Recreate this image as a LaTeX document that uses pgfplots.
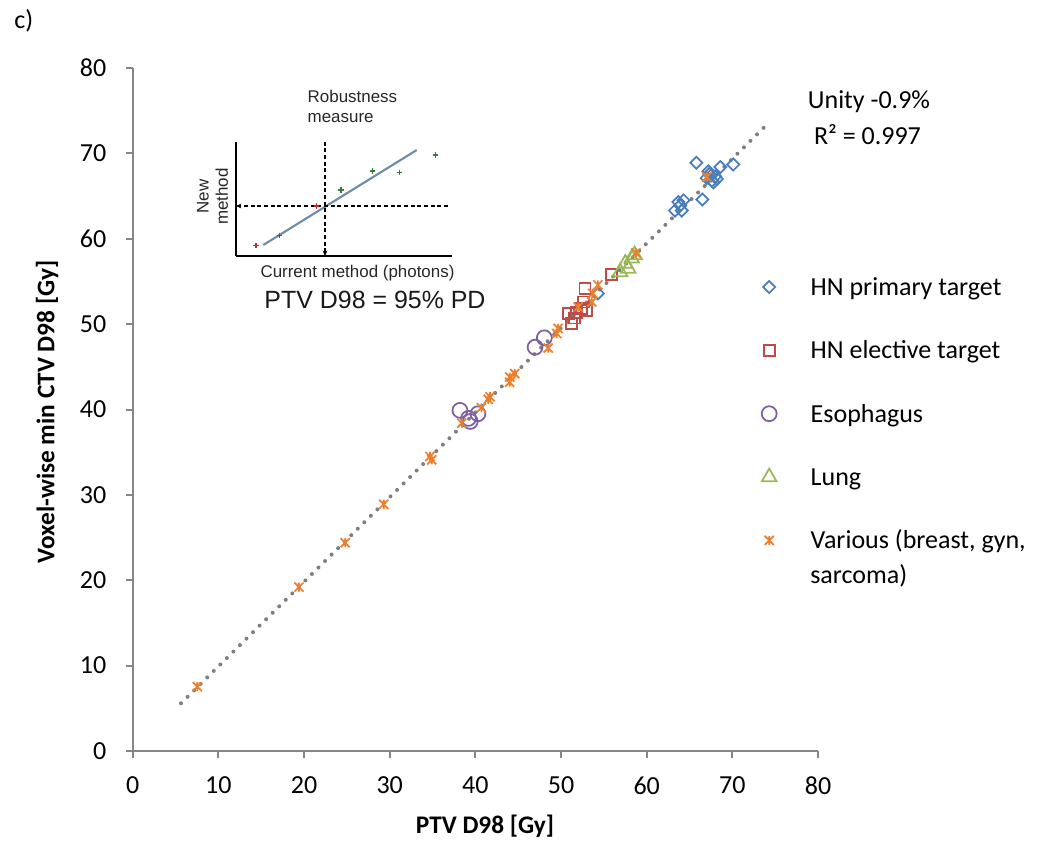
\documentclass[border=0pt]{standalone}
\usepackage{fontspec}
\setmainfont{Carlito}
\newfontfamily\arialf{Liberation Sans}
\usepackage{pgfplots}
\pgfplotsset{compat=1.18}
\usetikzlibrary{arrows.meta}
\definecolor{hnp}{HTML}{4A7EBB}
\definecolor{hne}{HTML}{BE4B48}
\definecolor{eso}{HTML}{7D60A0}
\definecolor{lung}{HTML}{98B954}
\definecolor{var}{HTML}{EB7F2E}
\definecolor{axgray}{HTML}{868686}
\definecolor{trend}{HTML}{7F7F7F}
\definecolor{inblue}{HTML}{6E8CAE}
\definecolor{inred}{HTML}{C0282A}
\definecolor{ingreen}{HTML}{3C7A3C}
\pgfdeclareplotmark{xstar}{%
 \pgfpathmoveto{\pgfqpoint{-\pgfplotmarksize}{-\pgfplotmarksize}}\pgfpathlineto{\pgfqpoint{\pgfplotmarksize}{\pgfplotmarksize}}%
 \pgfpathmoveto{\pgfqpoint{-\pgfplotmarksize}{\pgfplotmarksize}}\pgfpathlineto{\pgfqpoint{\pgfplotmarksize}{-\pgfplotmarksize}}%
 \pgfpathmoveto{\pgfqpoint{0pt}{-\pgfplotmarksize}}\pgfpathlineto{\pgfqpoint{0pt}{\pgfplotmarksize}}%
 \pgfusepathqstroke}
\begin{document}
\begin{tikzpicture}[x=0.75pt,y=0.75pt]
\useasboundingbox (0,0) rectangle (1038,843);
\begin{axis}[
  at={(99.53pt,69pt)}, anchor=south west,
  scale only axis, width=514pt, height=512.25pt,
  xmin=0,xmax=80,ymin=0,ymax=80,
  xtick={0,10,...,80}, ytick={0,10,...,80},
  axis lines*=left, axis line style={-, draw=axgray, line width=1.5pt},
  tick align=outside, major tick length=5.25pt,
  tick style={draw=axgray, line width=1.5pt},
  tick label style={font=\fontsize{19.5}{22}\selectfont},
  yticklabel style={xshift=-11pt},
  xticklabel style={yshift=-10.5pt},
  /pgf/number format/assume math mode=true,
  clip=false,
  legend cell align=left,
  legend style={at={(0.9154,0.6967)}, anchor=north west, draw=none, fill=none,
    inner sep=0pt, row sep=30.1pt, column sep=0pt,
    nodes={inner sep=0pt, text height=15pt, text depth=2.4pt,
      font=\fontsize{19.5}{23}\selectfont, anchor=west}},
  legend image code/.code={\draw[#1] plot coordinates {(0pt,0pt)}; \path (-6pt,0pt) (30.5pt,0pt);},
]
\addplot[only marks, mark=square, mark size=3.2pt, draw=hnp, line width=1.3pt, mark options={rotate=45}] coordinates {
(65.8,68.9) (70.1,68.7) (68.6,68.4) (67.3,67.6) (67.0,67.1) (67.6,66.8) (68.0,67.3)
(67.8,66.6) (68.2,67.0) (67.2,67.9) (67.5,67.4) (66.5,64.6) (63.7,64.3) (64.3,64.5)
(63.3,63.3) (64.1,63.3) (63.9,63.9) (54.3,53.6)};
\addlegendentry{HN primary target}
\addplot[only marks, mark=square, mark size=4.1pt, draw=hne, line width=1.3pt] coordinates {
(55.9,55.85) (52.8,54.2) (50.85,51.25) (51.25,50.1) (51.8,51.4) (52.4,51.8) (52.6,52.6)
(53.0,51.6) (51.6,50.7)};
\addlegendentry{HN elective target}
\addplot[only marks, mark=o, mark size=5.6pt, draw=eso, line width=1.3pt] coordinates {
(46.97,47.3) (48.05,48.4) (38.2,39.9) (39.2,38.96) (39.4,38.6) (40.3,39.5)};
\addlegendentry{Esophagus}
\addplot[only marks, mark=triangle, mark size=6.3pt, draw=lung, line width=1.3pt] coordinates {
(57.5,57.1) (58.25,57.7) (57.85,56.5) (56.9,56.1) (58.6,58.1)};
\addlegendentry{Lung}
\addplot[only marks, mark=xstar, mark size=3.4pt, draw=var, line width=1.3pt] coordinates {
(7.54,7.53) (19.4,19.2) (24.8,24.4) (29.3,28.9) (34.7,34.5) (34.9,34.1) (38.4,38.4)
(40.7,40.2) (41.5,41.2) (44.0,43.2) (41.7,41.5) (44.0,43.8) (44.6,44.2) (48.5,47.2)
(49.5,48.9) (49.65,49.5) (52.0,52.0) (53.6,52.6) (53.7,53.6) (54.3,54.6) (58.75,58.35)
(67.0,67.25)};
\addlegendentry{Various (breast, gyn,}
\addplot[forget plot, no marks, draw=trend, line width=3pt, line cap=round, dash pattern=on 0pt off 6.9pt] coordinates {
(5.64,5.59) (73.9,73.24)};
\end{axis}
% inset
\begin{axis}[
  at={(177pt,440.25pt)}, anchor=south west,
  scale only axis, width=161.8pt, height=85.7pt,
  xmin=0,xmax=215.7,ymin=0,ymax=114.3,
  axis lines=left, axis line style={-, line width=1.1pt, black},
  xtick=\empty, ytick=\empty, clip=false,
]
\addplot[no marks, draw=inblue, line width=1.6pt] coordinates {(27.3,11) (180.7,106)};
\addplot[no marks, draw=black, line width=1.1pt, dash pattern=on 3pt off 2pt, -{Stealth[length=4pt,width=3.5pt]}] coordinates {(89,114.3) (89,0)};
\addplot[no marks, draw=black, line width=1.1pt, dash pattern=on 3pt off 2pt, -{Stealth[length=4pt,width=3.5pt]}] coordinates {(212,50) (0,50)};
\addplot[only marks, mark=+, mark size=2pt, draw=inred, line width=0.8pt] coordinates {(20,10.3) (43.3,20.3) (80.7,50)};
\addplot[only marks, mark=+, mark size=2pt, draw=ingreen, line width=0.8pt] coordinates {(105,66) (136.7,85) (163.3,83.7) (199.7,101)};
\end{axis}
% inset texts
\node[font=\arialf\fontsize{12.7}{14}\selectfont, anchor=west, text=black!85] at (303,746.3) {Robustness};
\node[font=\arialf\fontsize{12.7}{14}\selectfont, anchor=west, text=black!85] at (303,724.7) {measure};
\node[font=\arialf\fontsize{12.7}{14.5}\selectfont, rotate=90, align=center, text=black!85] at (212.5,646.3) {New\\method};
\node[font=\arialf\fontsize{12.7}{14}\selectfont, text=black!85] at (357.5,570) {Current method (photons)};
\node[font=\arialf\fontsize{18.7}{21}\selectfont, text=black!90] at (375,543) {PTV D98 = 95\% PD};
% main texts
\node[font=\bfseries\fontsize{19}{22}\selectfont] at (485,16.3) {PTV D98 [Gy]};
\node[font=\bfseries\fontsize{19}{22}\selectfont, rotate=90] at (47,431) {Voxel-wise min CTV D98 [Gy]};
\node[font=\fontsize{19.5}{22}\selectfont, anchor=west, inner sep=0pt] at (14,822) {c)};
\node[font=\fontsize{19.5}{23}\selectfont] at (869,741.3) {Unity -0.9\%};
\node[font=\fontsize{19.5}{23}\selectfont] at (867.5,708) {R² = 0.997};
\node[font=\fontsize{19.5}{23}\selectfont, anchor=base west, inner sep=0pt] at (810,259.6) {sarcoma)};
\end{tikzpicture}
\end{document}
